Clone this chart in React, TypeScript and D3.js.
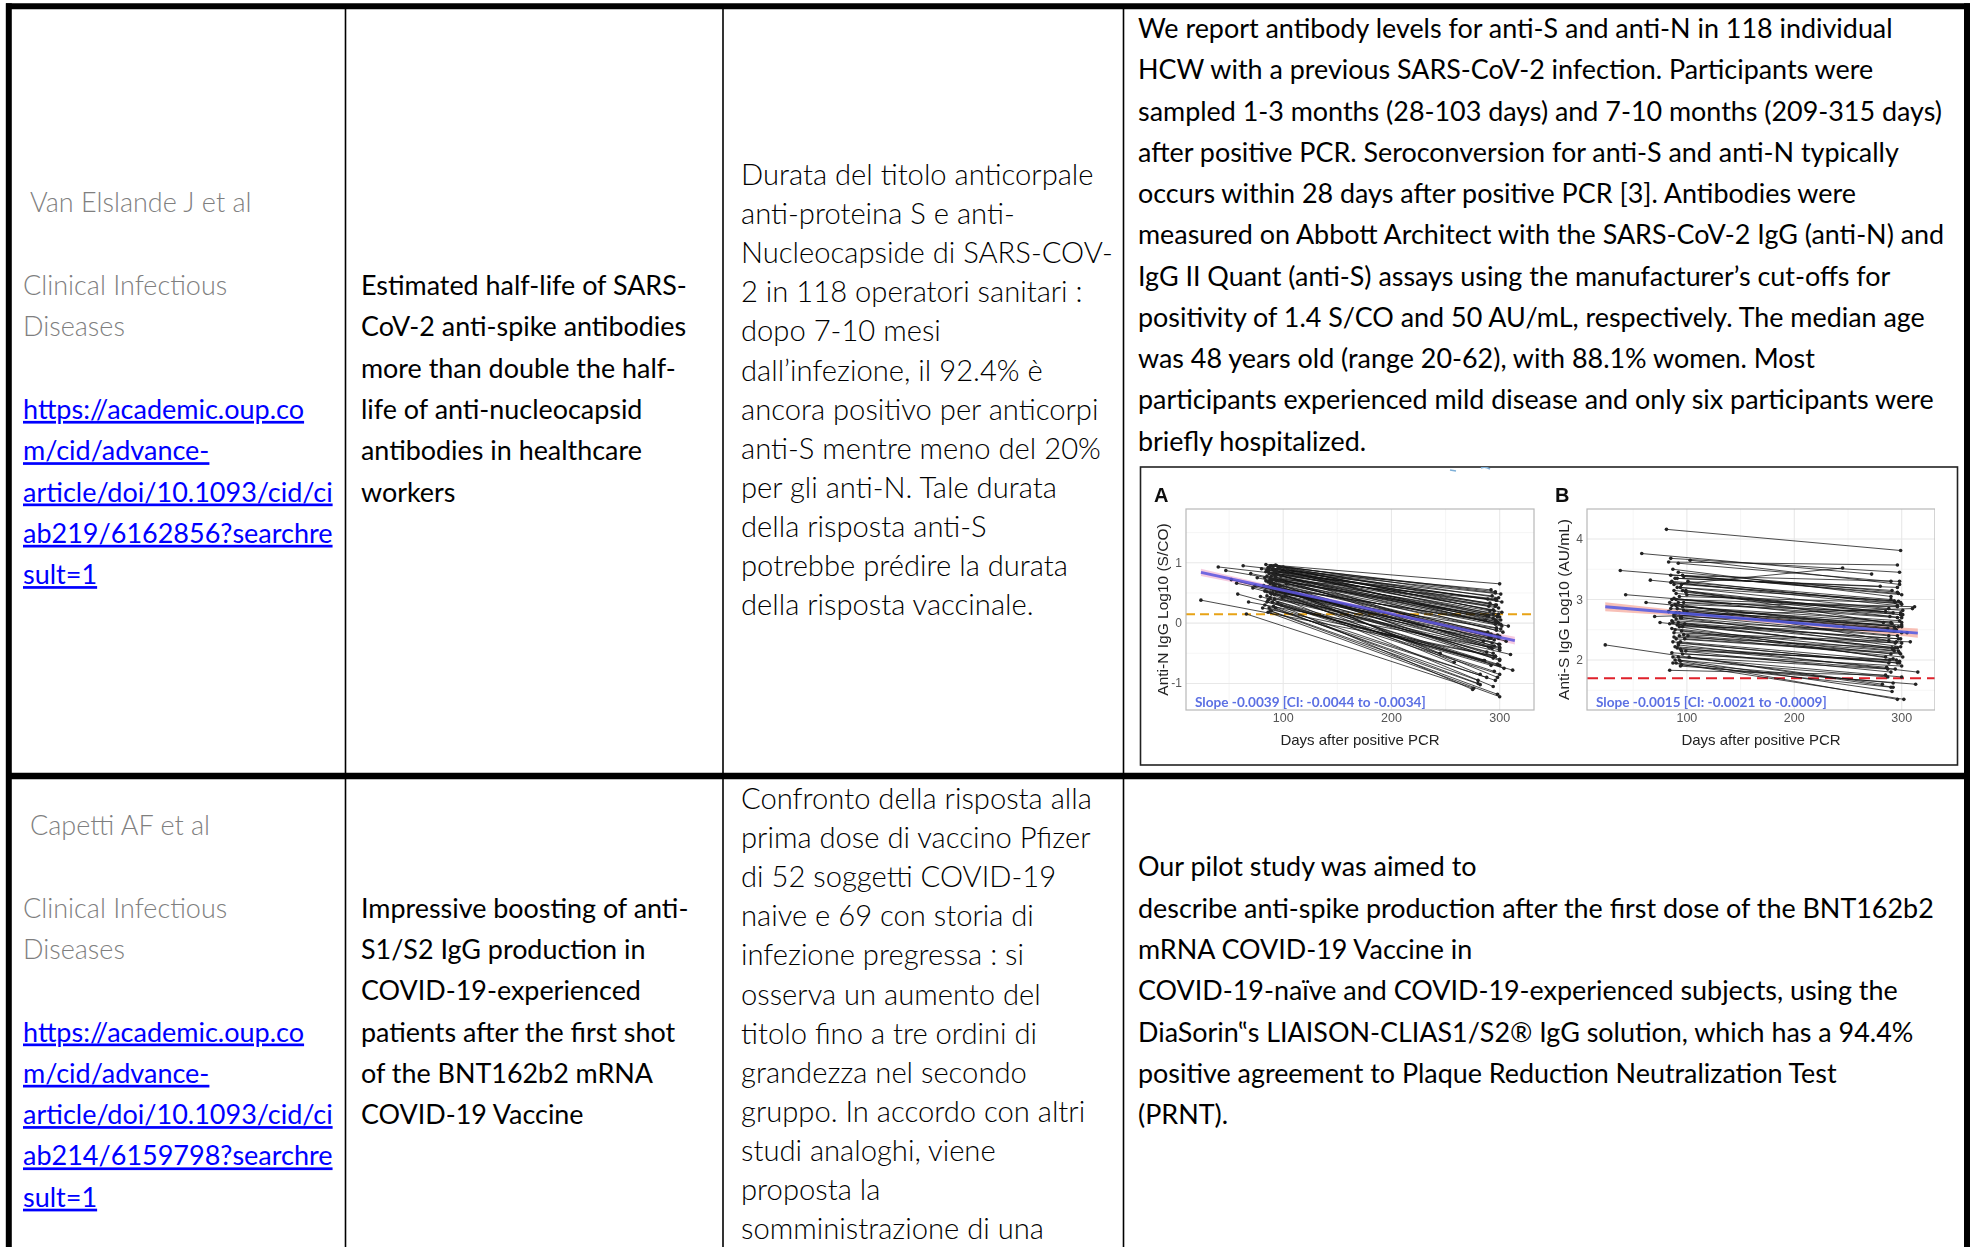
import React from "react";
import * as d3 from "d3";

// ---------- table text ----------
const authors = ["Van Elslande J et al", "Capetti AF et al"];
const journalLines = ["Clinical Infectious", "Diseases"];
const linkLines = [
  ["https://academic.oup.co", "m/cid/advance-", "article/doi/10.1093/cid/ci", "ab219/6162856?searchre", "sult=1"],
  ["https://academic.oup.co", "m/cid/advance-", "article/doi/10.1093/cid/ci", "ab214/6159798?searchre", "sult=1"],
];
const titleLines = [
  ["Estimated half-life of SARS-", "CoV-2 anti-spike antibodies", "more than double the half-", "life of anti-nucleocapsid", "antibodies in healthcare", "workers"],
  ["Impressive boosting of anti-", "S1/S2 IgG production in", "COVID-19-experienced", "patients after the first shot", "of the BNT162b2 mRNA", "COVID-19 Vaccine"],
];
const summaryLines = [
  ["Durata del titolo anticorpale", "anti-proteina S e anti-", "Nucleocapside di SARS-COV-", "2 in 118 operatori sanitari :", "dopo 7-10 mesi", "dall’infezione, il 92.4% è", "ancora positivo per anticorpi", "anti-S mentre meno del 20%", "per gli anti-N. Tale durata", "della risposta anti-S", "potrebbe prédire la durata", "della risposta vaccinale."],
  ["Confronto della risposta alla", "prima dose di vaccino Pfizer", "di 52 soggetti COVID-19", "naive e 69 con storia di", "infezione pregressa : si", "osserva un aumento del", "titolo fino a tre ordini di", "grandezza nel secondo", "gruppo. In accordo con altri", "studi analoghi, viene", "proposta la", "somministrazione di una"],
];
const abstractLines = [
  ["We report antibody levels for anti-S and anti-N in 118 individual", "HCW with a previous SARS-CoV-2 infection. Participants were", "sampled 1-3 months (28-103 days) and 7-10 months (209-315 days)", "after positive PCR. Seroconversion for anti-S and anti-N typically", "occurs within 28 days after positive PCR [3]. Antibodies were", "measured on Abbott Architect with the SARS-CoV-2 IgG (anti-N) and", "IgG II Quant (anti-S) assays using the manufacturer’s cut-offs for", "positivity of 1.4 S/CO and 50 AU/mL, respectively. The median age", "was 48 years old (range 20-62), with 88.1% women. Most", "participants experienced mild disease and only six participants were", "briefly hospitalized."],
  ["Our pilot study was aimed to", "describe anti-spike production after the first dose of the BNT162b2", "mRNA COVID-19 Vaccine in", "COVID-19-naïve and COVID-19-experienced subjects, using the", "DiaSorin‟s LIAISON-CLIAS1/S2® IgG solution, which has a 94.4%", "positive agreement to Plaque Reduction Neutralization Test", "(PRNT)."],
];

// ---------- figure data: [day1, level1, day2, level2] per participant ----------
const antiN: [number, number, number, number][] = [
  [24, 0.38, 296, -0.55], [40, 0.93, 296, 0.4], [47, 0.87, 288, 0.12], [52, 0.72, 300, -0.4],
  [57, 0.66, 292, -0.25], [63, 0.95, 301, 0.48], [66, 0.15, 276, -1.08], [70, 0.82, 297, 0.02],
  [72, 0.58, 294, -0.5], [76, 0.75, 302, -0.05], [79, 0.44, 286, -0.62], [80, 0.9, 296, 0.3],
  [82, 0.62, 293, -0.33], [83, 0.3, 280, -0.95], [84, 0.97, 300, 0.65], [84, 0.85, 291, 0.2],
  [85, 0.78, 298, 0.1], [85, 0.52, 300, -0.42], [86, 0.92, 297, 0.38], [86, 0.68, 289, -0.15],
  [87, 0.4, 295, -0.8], [87, 0.88, 293, 0.45], [88, 0.2, 298, -1.18], [88, 0.74, 301, -0.02],
  [89, 0.95, 296, 0.52], [89, 0.58, 285, -0.3], [90, 0.83, 299, 0.25], [90, 0.35, 292, -0.7],
  [91, 0.9, 294, 0.15], [91, 0.65, 300, -0.22], [92, 0.47, 288, -0.48], [92, 0.8, 296, 0.05],
  [93, 0.96, 299, 0.42], [93, 0.25, 280, -1.0], [94, 0.7, 297, -0.12], [94, 0.86, 291, 0.33],
  [95, 0.55, 300, -0.6], [96, 0.92, 302, 0.18], [97, 0.62, 295, -0.38], [98, 0.78, 298, 0.12],
  [100, 0.93, 296, 0.5], [102, 0.45, 294, -0.58], [104, 0.88, 290, 0.28], [86, 0.18, 300, -1.22],
  [88, 0.5, 304, -0.75], [90, 0.72, 306, -0.3], [92, 0.4, 310, -0.52], [87, 0.82, 308, -0.05],
  [95, 0.33, 312, -0.78], [84, 0.6, 282, -0.85], [89, 0.68, 258, -0.65], [91, 0.28, 296, -0.95],
  [93, 0.76, 300, -0.45], [85, 0.45, 290, -0.4], [88, 0.95, 302, 0.35], [90, 0.6, 299, 0.0],
  [92, 0.85, 297, 0.38], [86, 0.38, 275, -1.1], [94, 0.52, 292, -0.18], [96, 0.7, 294, 0.08],
  [83, 0.75, 289, 0.4], [97, 0.9, 300, 0.1], [99, 0.42, 298, -0.68], [88, 0.65, 296, -0.55],
  [85, 0.88, 294, 0.22], [90, 0.5, 290, -0.25], [92, 0.62, 245, -0.5], [87, 0.25, 288, -0.9],
  [89, 0.78, 299, 0.15], [93, 0.85, 301, 0.05], [95, 0.8, 296, 0.28], [91, 0.55, 300, -0.35],
  [84, 0.7, 297, -0.08], [86, 0.6, 287, 0.05], [98, 0.3, 300, -0.85], [90, 0.9, 292, 0.55],
  [88, 0.42, 295, -0.28], [96, 0.58, 293, -0.42], [94, 0.95, 297, 0.3], [85, 0.35, 285, -0.62],
  [103, 0.65, 298, -0.2], [89, 0.2, 282, -1.02], [92, 0.72, 290, 0.12], [87, 0.92, 298, 0.02],
  [91, 0.82, 303, -0.15], [58, 0.48, 300, -0.7], [68, 0.35, 292, -0.4], [74, 0.62, 299, -0.25],
  [81, 0.25, 296, -0.55], [83, 0.53, 301, -0.1], [86, 0.86, 299, -0.35], [89, 0.48, 294, -1.05],
  [93, 0.6, 298, -0.9], [95, 0.9, 296, -0.02], [87, 0.7, 300, -0.62], [91, 0.95, 295, 0.2],
];

const antiS: [number, number, number, number][] = [
  [24, 2.25, 292, 1.55], [38, 3.48, 297, 3.1], [43, 3.08, 289, 2.72], [58, 3.76, 272, 3.42],
  [62, 2.95, 300, 2.55], [66, 3.32, 296, 2.9], [70, 2.72, 310, 2.85], [75, 2.62, 294, 2.2],
  [81, 4.16, 299, 3.81], [83, 3.62, 296, 3.57], [84, 1.83, 285, 1.75], [85, 3.68, 298, 3.45],
  [86, 3.3, 290, 3.0], [86, 2.9, 293, 2.55], [87, 2.3, 288, 1.95], [87, 2.05, 300, 1.72],
  [88, 3.25, 245, 3.52], [88, 2.75, 296, 2.4], [89, 3.35, 280, 3.22], [89, 2.5, 290, 2.1],
  [90, 1.95, 292, 1.62], [90, 3.1, 299, 2.78], [91, 2.85, 300, 2.62], [91, 2.2, 286, 1.88],
  [92, 3.6, 290, 3.3], [92, 2.62, 297, 2.35], [93, 3.05, 294, 2.95], [93, 2.4, 301, 2.05],
  [94, 1.98, 296, 1.35], [94, 3.2, 288, 2.85], [95, 2.7, 299, 2.22], [95, 2.15, 290, 1.8],
  [96, 3.4, 300, 3.08], [96, 2.55, 293, 2.48], [97, 2.95, 296, 2.7], [98, 2.35, 298, 2.12],
  [99, 3.15, 291, 2.6], [100, 2.8, 295, 2.5], [101, 3.3, 300, 2.92], [102, 2.05, 282, 1.6],
  [103, 3.65, 298, 3.25], [86, 2.65, 305, 2.45], [88, 2.45, 308, 2.3], [90, 3.0, 312, 2.88],
  [92, 2.25, 315, 1.8], [94, 1.9, 313, 1.6], [87, 3.5, 290, 3.05], [89, 2.92, 285, 2.8],
  [91, 2.58, 296, 2.2], [93, 2.0, 291, 1.48], [95, 3.25, 297, 2.97], [97, 2.42, 300, 2.28],
  [85, 2.85, 287, 2.52], [86, 2.12, 294, 1.85], [88, 3.15, 299, 2.75], [90, 2.68, 288, 2.32],
  [92, 3.45, 296, 3.12], [94, 2.3, 289, 2.0], [96, 2.88, 298, 2.65], [98, 2.6, 292, 2.18],
  [100, 3.08, 301, 2.82], [84, 2.95, 295, 2.3], [87, 1.95, 302, 1.35], [89, 2.22, 298, 1.95],
  [91, 3.2, 293, 2.98], [93, 2.78, 300, 2.45], [95, 2.48, 285, 2.05], [97, 3.38, 291, 3.15],
  [99, 2.15, 295, 2.0], [86, 2.52, 297, 2.15], [88, 3.02, 290, 2.62], [90, 2.35, 299, 2.1],
  [92, 2.95, 296, 2.88], [94, 2.7, 288, 2.4], [96, 2.1, 300, 1.9], [85, 3.28, 299, 2.95],
  [87, 2.62, 294, 2.28], [89, 2.0, 287, 1.72], [91, 3.35, 296, 3.2], [93, 2.55, 292, 2.02],
  [95, 1.92, 290, 1.55], [97, 2.82, 297, 2.55], [99, 3.12, 300, 2.7], [101, 2.4, 293, 2.15],
  [83, 2.8, 283, 2.62], [85, 3.4, 298, 3.3], [90, 2.78, 246, 2.55], [92, 2.28, 296, 1.95],
  [86, 3.0, 301, 2.75], [88, 2.38, 291, 2.2], [84, 2.6, 299, 2.35], [90, 2.9, 294, 2.52],
  [94, 2.18, 298, 1.98], [96, 3.15, 292, 2.78], [88, 2.72, 300, 2.58], [92, 2.05, 287, 1.85],
];

// fitted decay (intercept at day 0, slope per day) and CI band half-widths
const fitA = { intercept: 0.934, slope: -0.0039, from: 24, to: 314 };
const fitB = { intercept: 2.917, slope: -0.0015, from: 24, to: 315 };
const bandA: [number, number][] = [[24, 0.06], [100, 0.035], [170, 0.03], [240, 0.035], [314, 0.065]];
const bandB: [number, number][] = [[24, 0.075], [100, 0.045], [170, 0.04], [240, 0.045], [315, 0.075]];
const cutoffA = Math.log10(1.4);
const cutoffB = Math.log10(50);

const xTicks = [100, 200, 300];
const yTicksA = [-1, 0, 1];
const yTicksB = [2, 3, 4];

type Panel = {
  letter: string;
  yLabel: string;
  slopeText: string;
  rows: [number, number, number, number][];
  fit: { intercept: number; slope: number; from: number; to: number };
  band: [number, number][];
  cutoff: number;
  yTicks: number[];
  xDomain: [number, number];
  yDomain: [number, number];
  left: number;
  right: number;
  lineColor: string;
  bandColor: string;
  cutColor: string;
  cutDash: string;
};

const panels: Panel[] = [
  {
    letter: "A", yLabel: "Anti-N IgG Log10 (S/CO)", slopeText: "Slope -0.0039 [CI: -0.0044 to -0.0034]",
    rows: antiN, fit: fitA, band: bandA, cutoff: cutoffA, yTicks: yTicksA,
    xDomain: [10.2, 331.7], yDomain: [-1.44, 1.89], left: 1186, right: 1534,
    lineColor: "#5b55e0", bandColor: "#f3b9d6", cutColor: "#e8a317", cutDash: "9,5",
  },
  {
    letter: "B", yLabel: "Anti-S IgG Log10 (AU/mL)", slopeText: "Slope -0.0015 [CI: -0.0021 to -0.0009]",
    rows: antiS, fit: fitB, band: bandB, cutoff: cutoffB, yTicks: yTicksB,
    xDomain: [7, 331], yDomain: [1.174, 4.496], left: 1587, right: 1935,
    lineColor: "#4f5ae6", bandColor: "#f6ab9f", cutColor: "#e0202c", cutDash: "11,6",
  },
];

const TOP = 509;
const BOTTOM = 710;
const sans = "'Liberation Sans', Arial, sans-serif";
const bodyFont = "Lato, 'Open Sans', sans-serif";

function PanelPlot({ p }: { p: Panel }) {
  const x = d3.scaleLinear().domain(p.xDomain).range([p.left, p.right]);
  const y = d3.scaleLinear().domain(p.yDomain).range([BOTTOM, TOP]);
  const fitY = (d: number) => p.fit.intercept + p.fit.slope * d;
  const area = d3
    .area<[number, number]>()
    .x((d) => x(d[0]))
    .y0((d) => y(fitY(d[0]) - d[1]))
    .y1((d) => y(fitY(d[0]) + d[1]))
    .curve(d3.curveMonotoneX);
  const minorX = [50, 150, 250];
  const minorY = p.yTicks.map((t) => t + 0.5).concat([p.yTicks[0] - 0.5]);
  const midY = (TOP + BOTTOM) / 2;
  return (
    <g>
      <rect x={p.left} y={TOP} width={p.right - p.left} height={BOTTOM - TOP} fill="#fff" />
      {minorX.map((t) => (
        <line key={"mx" + t} x1={x(t)} x2={x(t)} y1={TOP} y2={BOTTOM} stroke="#f4f4f4" strokeWidth={0.8} />
      ))}
      {minorY.filter((t) => t > p.yDomain[0] && t < p.yDomain[1]).map((t) => (
        <line key={"my" + t} x1={p.left} x2={p.right} y1={y(t)} y2={y(t)} stroke="#f4f4f4" strokeWidth={0.8} />
      ))}
      {xTicks.map((t) => (
        <line key={"gx" + t} x1={x(t)} x2={x(t)} y1={TOP} y2={BOTTOM} stroke="#e8e8e8" strokeWidth={1.1} />
      ))}
      {p.yTicks.map((t) => (
        <line key={"gy" + t} x1={p.left} x2={p.right} y1={y(t)} y2={y(t)} stroke="#e8e8e8" strokeWidth={1.1} />
      ))}
      <path d={area(p.band) || ""} fill={p.bandColor} opacity={0.75} />
      <line x1={p.left} x2={p.right} y1={y(p.cutoff)} y2={y(p.cutoff)} stroke={p.cutColor} strokeWidth={2.2} strokeDasharray={p.cutDash} />
      {p.rows.map((r, i) => (
        <line key={"l" + i} x1={x(r[0])} y1={y(r[1])} x2={x(r[2])} y2={y(r[3])} stroke="#111" strokeWidth={0.9} strokeOpacity={0.85} />
      ))}
      {p.rows.map((r, i) => (
        <g key={"p" + i}>
          <circle cx={x(r[0])} cy={y(r[1])} r={1.8} fill="#222" />
          <circle cx={x(r[2])} cy={y(r[3])} r={1.8} fill="#222" />
        </g>
      ))}
      <line x1={x(p.fit.from)} y1={y(fitY(p.fit.from))} x2={x(p.fit.to)} y2={y(fitY(p.fit.to))} stroke={p.lineColor} strokeWidth={3} opacity={0.85} />
      <rect x={p.left} y={TOP} width={p.right - p.left} height={BOTTOM - TOP} fill="none" stroke="#b8b8b8" strokeWidth={1.2} />
      {xTicks.map((t) => (
        <text key={"tx" + t} x={x(t)} y={BOTTOM + 12} textAnchor="middle" fontFamily={sans} fontSize={12.5} fill="#555">{t}</text>
      ))}
      {p.yTicks.map((t) => (
        <text key={"ty" + t} x={p.left - 4} y={y(t) + 4} textAnchor="end" fontFamily={sans} fontSize={12} fill="#555">{t}</text>
      ))}
      <text x={(p.left + p.right) / 2} y={BOTTOM + 35} textAnchor="middle" fontFamily={sans} fontSize={15} fill="#222">Days after positive PCR</text>
      <text transform={`translate(${p.left - 18},${midY}) rotate(-90)`} textAnchor="middle" fontFamily={sans} fontSize={15.5} fill="#222">{p.yLabel}</text>
      <text x={p.left - 32} y={TOP - 7} fontFamily={sans} fontSize={20} fontWeight={700} fill="#111">{p.letter}</text>
      <text x={p.left + 9} y={BOTTOM - 3} fontFamily={bodyFont} fontSize={13.6} fontWeight={700} fill="#5b6fe3">{p.slopeText}</text>
    </g>
  );
}

function Lines({ lines, x, y, pitch, size, fill = "#000", weight = 400, underline = false }: {
  lines: string[]; x: number; y: number; pitch: number; size: number; fill?: string; weight?: number; underline?: boolean;
}) {
  return (
    <g fontFamily={bodyFont} fontSize={size} fill={fill} fontWeight={weight}>
      {lines.map((s, i) => (
        <text key={i} x={x} y={y + i * pitch} textDecoration={underline ? "underline" : undefined}>{s}</text>
      ))}
    </g>
  );
}

export default function App() {
  const pitch = 41.3;
  const rowStarts = [295, 917.6];
  const authorY = [212, 835];
  const body = 26.9;
  return (
    <svg width={1970} height={1247} style={{ position: "absolute", left: 0, top: 0, background: "#fff" }}>
      <defs>
        <filter id="soft" x="0" y="0" width="1" height="1">
          <feGaussianBlur stdDeviation={0.45} />
        </filter>
      </defs>
      <rect x={0} y={0} width={1970} height={1247} fill="#fff" />

      {/* column 1: reference */}
      {[0, 1].map((r) => (
        <g key={"c1" + r}>
          <Lines lines={[authors[r]]} x={30} y={authorY[r]} pitch={pitch} size={27} fill="#7f7f7f" weight={300} />
          <Lines lines={journalLines} x={23} y={rowStarts[r]} pitch={pitch} size={27} fill="#7f7f7f" weight={300} />
          <Lines lines={linkLines[r]} x={23} y={rowStarts[r] + 3 * pitch} pitch={pitch} size={27} fill="#0000ff" underline />
        </g>
      ))}

      {/* column 2: title */}
      {[0, 1].map((r) => (
        <Lines key={"c2" + r} lines={titleLines[r]} x={361} y={rowStarts[r]} pitch={pitch} size={body} />
      ))}

      {/* column 3: summary */}
      <Lines lines={summaryLines[0]} x={741} y={185} pitch={39.1} size={29.2} weight={300} fill="#000" />
      <Lines lines={summaryLines[1]} x={741} y={809} pitch={39.1} size={29.2} weight={300} fill="#000" />

      {/* column 4: abstract */}
      <Lines lines={abstractLines[0]} x={1138} y={38} pitch={41.25} size={body} />
      <Lines lines={abstractLines[1]} x={1138} y={876.3} pitch={pitch} size={body} />

      {/* embedded figure */}
      <rect x={1140.5} y={467} width={817} height={298} fill="#fff" stroke="#222" strokeWidth={1.6} />
      <g filter="url(#soft)">
        {panels.map((p) => (
          <PanelPlot key={p.letter} p={p} />
        ))}
        <path d="M1450,470 l6,1" stroke="#7fb0d8" strokeWidth={1.5} />
        <path d="M1481,468 q4,-2 9,1" stroke="#7fb0d8" strokeWidth={1.5} fill="none" />
      </g>

      {/* table grid */}
      <g stroke="#000">
        <line x1={345.5} x2={345.5} y1={6} y2={1247} strokeWidth={1.6} />
        <line x1={723} x2={723} y1={6} y2={1247} strokeWidth={1.6} />
        <line x1={1123.5} x2={1123.5} y1={6} y2={1247} strokeWidth={1.6} />
        <line x1={6} x2={1970} y1={776} y2={776} strokeWidth={6.5} />
        <line x1={6} x2={1970} y1={6.3} y2={6.3} strokeWidth={6} />
        <line x1={8.8} x2={8.8} y1={3.3} y2={1247} strokeWidth={6} />
        <line x1={1967} x2={1967} y1={3.3} y2={1247} strokeWidth={6} />
      </g>
    </svg>
  );
}
